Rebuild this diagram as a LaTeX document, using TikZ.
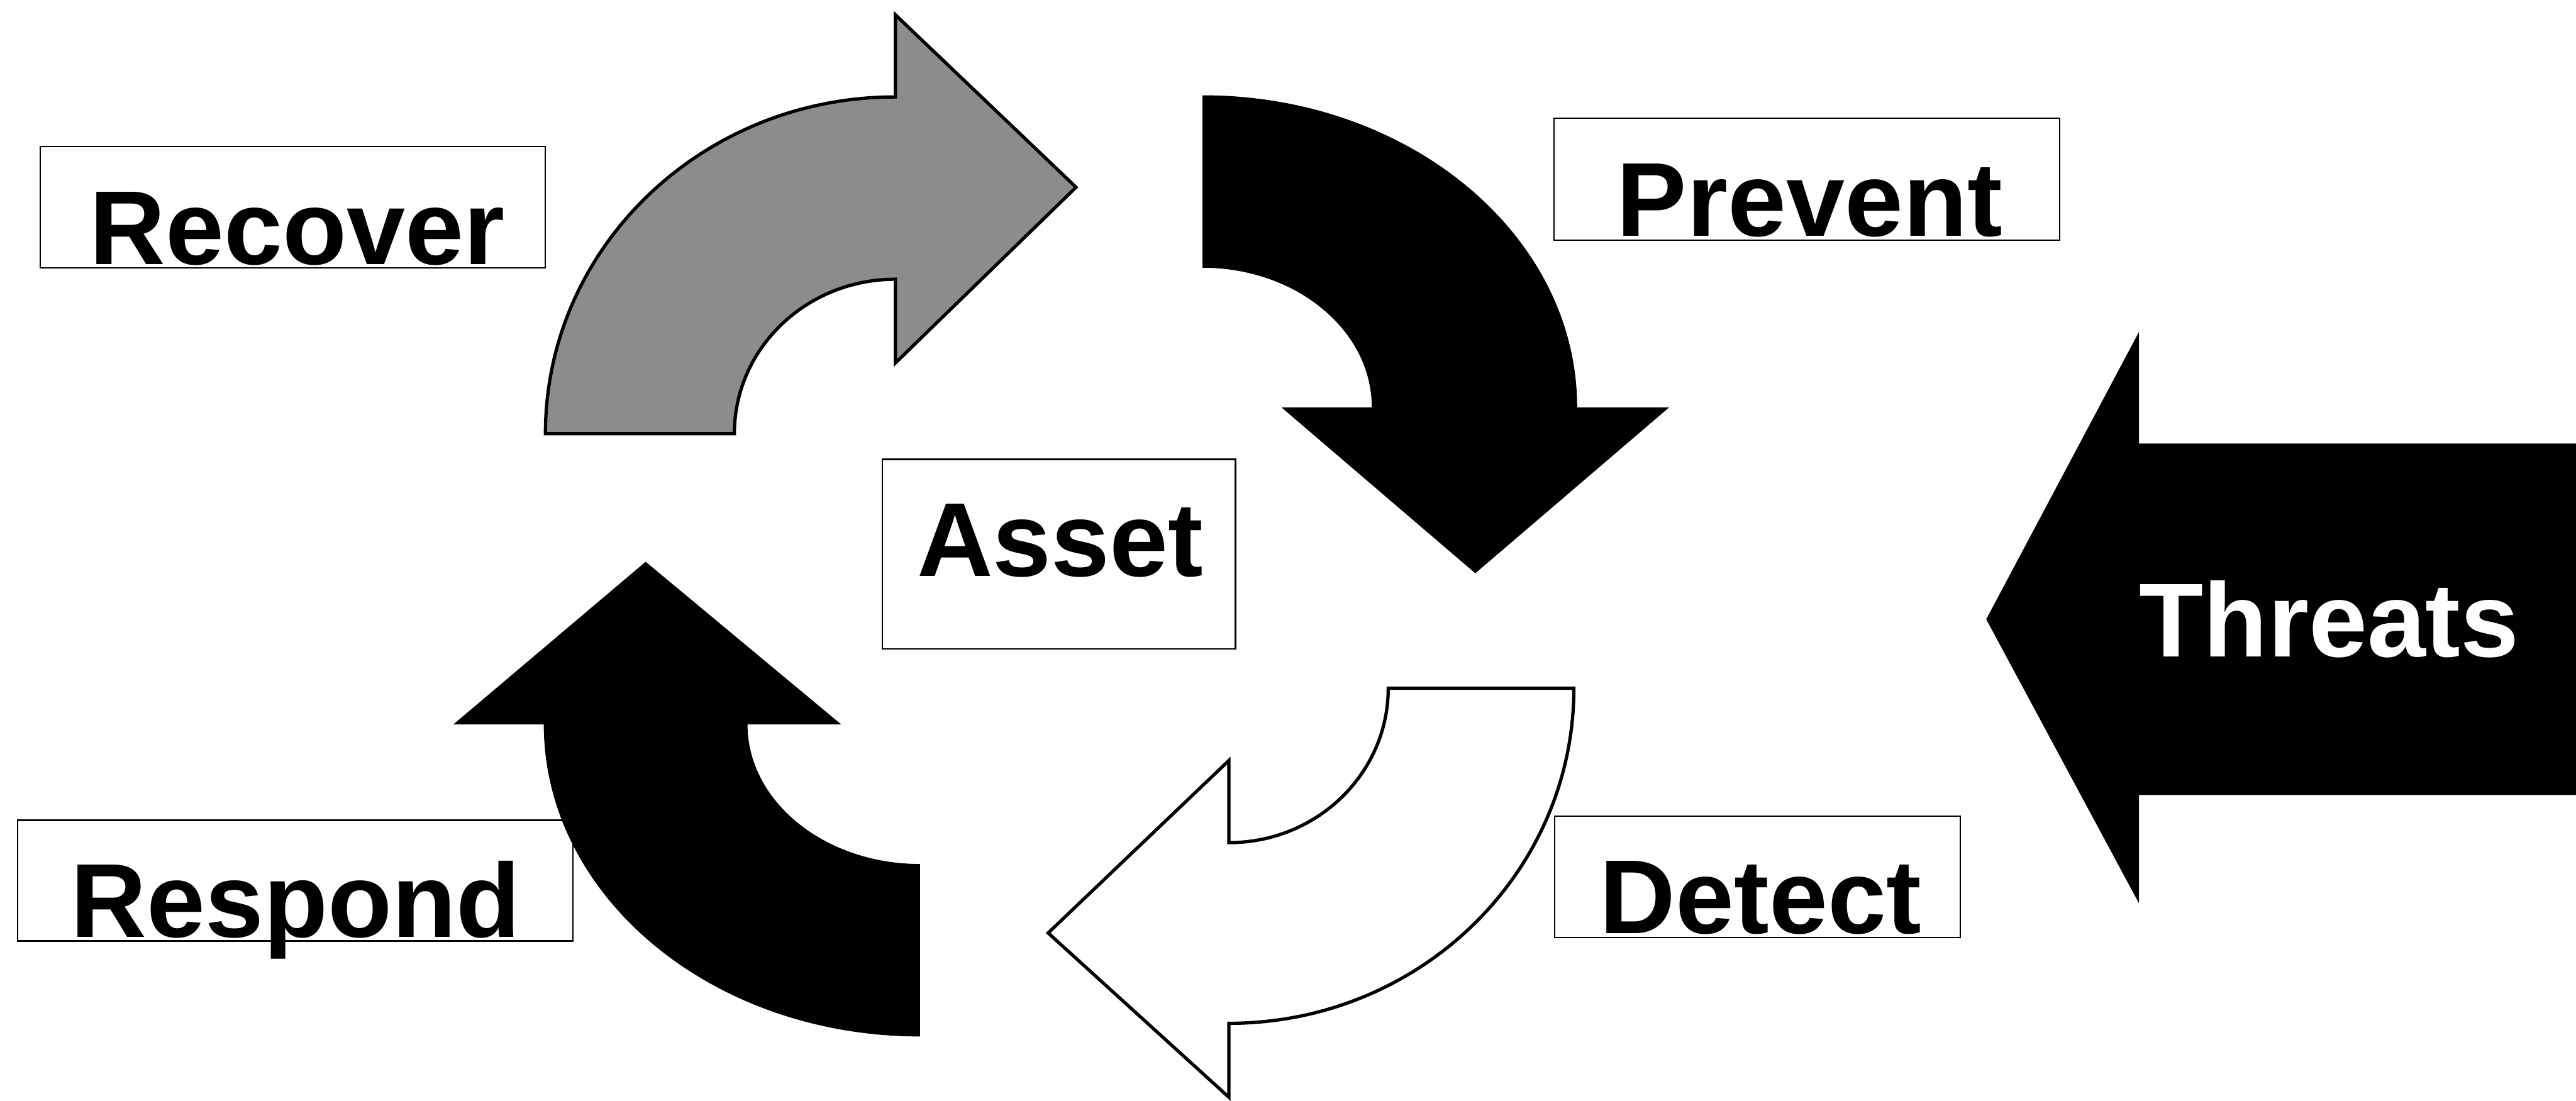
\documentclass[tikz,border=0pt]{standalone}
\usepackage{fontspec}
\setmainfont{Liberation Sans}
\definecolor{recovergrey}{gray}{0.55}
\begin{document}
\begin{tikzpicture}[x=1pt,y=-1pt,
  labelbox/.style={draw=black, line width=0.9pt, inner sep=0pt},
  labeltext/.style={inner sep=0pt, anchor=base, font=\fontsize{64}{70}\selectfont\bfseries},
  ringarrow/.style={draw=black, line width=2pt, line join=miter}]
\useasboundingbox (0,0) rectangle (1568,670);

% frames of the labels
\node[labelbox, minimum width=307.5pt, minimum height=73.8pt] (recoverbox) at (178.25,126.1) {};
\node[labelbox, minimum width=307.6pt, minimum height=74.3pt] (preventbox) at (1099.8,109.15) {};
\node[labelbox, minimum width=215pt, minimum height=115.3pt] (assetbox) at (644.5,337.35) {};
\node[labelbox, minimum width=246.9pt, minimum height=73.9pt] (detectbox) at (1069.85,533.75) {};
\node[labelbox, minimum width=338pt, minimum height=73.5pt] (respondbox) at (179.7,536.15) {};

% Recover: grey curved arrow pointing right
\filldraw[ringarrow, fill=recovergrey]
  (332,264) arc[start angle=180, end angle=270, x radius=213, y radius=205]
  -- (545,9) -- (655,114) -- (545,221) -- (545,170)
  arc[start angle=270, end angle=180, x radius=98, y radius=94] -- cycle;

% Prevent: black curved arrow pointing down
\fill[black]
  (732,58) arc[start angle=270, end angle=360, x radius=228, y radius=190]
  -- (1016,248) -- (898,349) -- (780,248) -- (835,248)
  arc[start angle=360, end angle=270, x radius=103, y radius=85] -- cycle;

% Detect: outlined curved arrow pointing left
\filldraw[ringarrow, fill=white]
  (958,419) arc[start angle=0, end angle=90, x radius=210, y radius=204]
  -- (748,668) -- (638,568) -- (748,463) -- (748,513)
  arc[start angle=90, end angle=0, x radius=97, y radius=94] -- cycle;

% Respond: black curved arrow pointing up
\fill[black]
  (560,631) arc[start angle=90, end angle=180, x radius=229, y radius=190]
  -- (276,441) -- (393,342) -- (512,441) -- (455,441)
  arc[start angle=180, end angle=90, x radius=105, y radius=85] -- cycle;

% Threats: large arrow entering from the right
\fill[black] (1568,270) -- (1302,270) -- (1302,202) -- (1209,377)
  -- (1302,550) -- (1302,484) -- (1568,484) -- cycle;

% labels
\node[labeltext] (recover) at (181,161) {Recover};
\node[labeltext] (prevent) at (1101.5,143.8) {Prevent};
\node[labeltext] (asset) at (645.3,351) {Asset};
\node[labeltext] (detect) at (1071.6,568.2) {Detect};
\node[labeltext] (respond) at (180,570.4) {Respond};
\node[labeltext, text=white] (threats) at (1417.8,400) {Threats};
\end{tikzpicture}
\end{document}
